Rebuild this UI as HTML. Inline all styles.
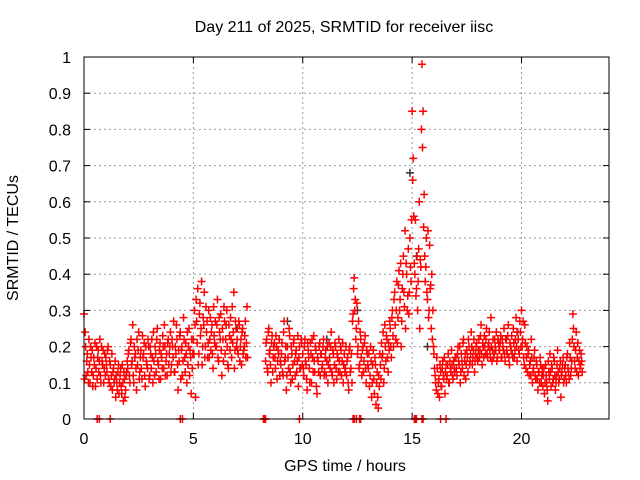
<!DOCTYPE html>
<html><head><meta charset="utf-8"><style>
body{margin:0;background:#fff}
svg{display:block;font-family:"Liberation Sans",sans-serif}
</style></head><body>
<svg id="chart" width="640" height="480" viewBox="0 0 640 480">
<rect width="640" height="480" fill="#fff"/>
<g id="grid"></g>
<g id="ticks"></g>
<g id="marks"></g>
<rect x="84" y="57" width="525" height="362" fill="none" stroke="#000" stroke-width="1"/>
<text x="344" y="32" font-size="16" text-anchor="middle">Day 211 of 2025, SRMTID for receiver iisc</text>
<text x="345" y="471" font-size="16" text-anchor="middle">GPS time / hours</text>
<text x="18" y="238" font-size="16" text-anchor="middle" transform="rotate(-90 18 238)">SRMTID / TECUs</text>
</svg>
<script>
const xTicks=[0,5,10,15,20];
const yTicks=[0,0.1,0.2,0.3,0.4,0.5,0.6,0.7,0.8,0.9,1];
const yTickLabels=["0","0.1","0.2","0.3","0.4","0.5","0.6","0.7","0.8","0.9","1"];
const sampleStep=0.05;
const segStarts=[0,1,2,3,4,5,6,7,8.3,9,10,11,12,13,14,15,16,17,18,19,20,21,22];
const seg0=[0.29,0.24,0.12,0.18,0.1,0.15,0.2,0.13,0.09,0.17,0.21,0.14,0.11,0.19,0.16,0.12,0.2,0.15,0.1,0.18];
const seg1=[0.17,0.13,0.2,0.1,0.15,0.12,0.08,0.14,0.11,0.06,0.1,0.13,0.07,0.12,0.09,0.15,0.05,0.11,0.08,0.13];
const seg2=[0.14,0.19,0.1,0.22,0.16,0.12,0.2,0.18,0.08,0.15,0.24,0.13,0.19,0.11,0.17,0.21,0.09,0.16,0.14,0.2];
const seg3=[0.12,0.18,0.22,0.1,0.16,0.2,0.13,0.25,0.15,0.19,0.11,0.17,0.23,0.14,0.2,0.16,0.12,0.22,0.18,0.24];
const seg4=[0.15,0.2,0.27,0.13,0.18,0.22,0.08,0.16,0.24,0.19,0.12,0.28,0.17,0.21,0.1,0.15,0.25,0.19,0.07,0.14];
const seg5=[0.22,0.3,0.06,0.27,0.36,0.18,0.32,0.25,0.15,0.28,0.35,0.2,0.24,0.17,0.3,0.22,0.19,0.26,0.14,0.23];
const seg6=[0.27,0.2,0.33,0.16,0.24,0.29,0.12,0.22,0.31,0.18,0.26,0.2,0.14,0.23,0.28,0.17,0.21,0.35,0.19,0.25];
const seg7=[0.22,0.18,0.26,0.2,0.15,0.25,0.19,0.23,0.17,0.31];
const seg8=[0.16,0.22,0.13,0.25,0.19,0.1,0.23,0.17,0.21,0.14,0.2,0.16,0.18,0.12];
const seg9=[0.15,0.21,0.12,0.27,0.17,0.08,0.2,0.14,0.23,0.1,0.18,0.15,0.22,0.12,0.19,0.16,0.09,0.2,0.14,0.21];
const seg10=[0.18,0.12,0.22,0.15,0.08,0.19,0.14,0.21,0.1,0.17,0.23,0.13,0.19,0.07,0.16,0.2,0.12,0.18,0.15,0.22];
const seg11=[0.13,0.19,0.16,0.1,0.21,0.14,0.24,0.12,0.18,0.15,0.2,0.11,0.17,0.22,0.13,0.19,0.16,0.1,0.18,0.14];
const seg12=[0.12,0.17,0.08,0.2,0.14,0.1,0.29,0.39,0.33,0.25,0.18,0.27,0.15,0.22,0.12,0.2,0.16,0.23,0.1,0.18];
const seg13=[0.14,0.09,0.2,0.06,0.15,0.11,0.17,0.04,0.13,0.03,0.09,0.15,0.21,0.18,0.1,0.26,0.16,0.22,0.13,0.19];
const seg14=[0.25,0.17,0.3,0.2,0.35,0.22,0.38,0.28,0.41,0.33,0.2,0.36,0.45,0.31,0.25,0.4,0.34,0.29,0.5,0.38];
const seg15=[0.85,0.72,0.43,0.55,0.36,0.3,0.47,0.25,0.42,0.98,0.85,0.62,0.38,0.5,0.33,0.28,0.48,0.37,0.4,0.3];
const seg16=[0.18,0.12,0.08,0.14,0.1,0.06,0.13,0.09,0.16,0.11,0.07,0.15,0.12,0.18,0.1,0.14,0.19,0.12,0.16,0.13];
const seg17=[0.17,0.12,0.2,0.15,0.1,0.18,0.14,0.22,0.16,0.11,0.19,0.13,0.2,0.16,0.24,0.15,0.19,0.13,0.18,0.21];
const seg18=[0.16,0.22,0.19,0.26,0.15,0.2,0.23,0.18,0.25,0.17,0.21,0.19,0.28,0.16,0.22,0.18,0.2,0.24,0.17,0.21];
const seg19=[0.19,0.23,0.17,0.2,0.25,0.16,0.22,0.18,0.26,0.15,0.2,0.23,0.17,0.21,0.19,0.28,0.16,0.22,0.18,0.24];
const seg20=[0.3,0.22,0.17,0.26,0.14,0.2,0.18,0.12,0.16,0.22,0.1,0.14,0.19,0.11,0.15,0.08,0.13,0.17,0.1,0.14];
const seg21=[0.12,0.07,0.15,0.1,0.05,0.13,0.18,0.09,0.14,0.11,0.16,0.08,0.12,0.19,0.1,0.14,0.06,0.13,0.17,0.11];
const seg22=[0.15,0.1,0.18,0.13,0.21,0.12,0.16,0.29,0.2,0.14,0.24,0.17,0.12,0.19,0.15,0.16];
const segStartsB=[0.025,1.025,2.025,3.025,4.025,5.025,6.025,7.025,8.325,9.025,10.025,11.025,12.025,13.025,14.025,15.025,16.025,17.025,18.025,19.025,20.025,21.025,22.025];
const segB0=[0.11,0.2,0.16,0.13,0.22,0.1,0.17,0.19,0.12,0.15,0.09,0.2,0.17,0.13,0.22,0.1,0.16,0.19,0.14,0.12];
const segB1=[0.15,0.19,0.11,0.16,0.09,0.18,0.13,0.1,0.16,0.12,0.08,0.15,0.1,0.14,0.07,0.1,0.13,0.06,0.12,0.16];
const segB2=[0.18,0.12,0.21,0.15,0.26,0.1,0.17,0.14,0.22,0.19,0.11,0.17,0.14,0.23,0.18,0.12,0.2,0.15,0.22,0.11];
const segB3=[0.2,0.14,0.17,0.24,0.12,0.18,0.22,0.16,0.11,0.21,0.18,0.14,0.2,0.26,0.12,0.18,0.21,0.15,0.2,0.13];
const segB4=[0.22,0.17,0.13,0.2,0.26,0.15,0.19,0.23,0.11,0.2,0.16,0.22,0.13,0.18,0.24,0.2,0.12,0.17,0.22,0.18];
const segB5=[0.18,0.26,0.33,0.21,0.15,0.29,0.23,0.38,0.2,0.26,0.17,0.31,0.27,0.21,0.17,0.28,0.24,0.18,0.31,0.21];
const segB6=[0.2,0.26,0.17,0.28,0.22,0.19,0.25,0.16,0.27,0.22,0.3,0.15,0.26,0.19,0.22,0.31,0.24,0.14,0.27,0.2];
const segB7=[0.19,0.27,0.16,0.22,0.24,0.18,0.2,0.27,0.21,0.17];
const segB8=[0.21,0.14,0.24,0.18,0.15,0.21,0.13,0.2,0.17,0.23,0.11,0.19,0.22,0.16];
const segB9=[0.18,0.13,0.24,0.16,0.2,0.12,0.17,0.25,0.13,0.2,0.11,0.21,0.16,0.18,0.13,0.23,0.17,0.14,0.22,0.15];
const segB10=[0.14,0.2,0.16,0.11,0.21,0.17,0.1,0.18,0.22,0.13,0.16,0.2,0.09,0.17,0.13,0.21,0.18,0.14,0.2,0.12];
const segB11=[0.17,0.12,0.2,0.15,0.17,0.2,0.13,0.19,0.1,0.21,0.14,0.18,0.13,0.16,0.2,0.12,0.21,0.15,0.13,0.2];
const segB12=[0.16,0.1,0.19,0.13,0.18,0.27,0.36,0.3,0.22,0.32,0.2,0.14,0.24,0.17,0.19,0.13,0.21,0.14,0.19,0.15];
const segB13=[0.18,0.12,0.16,0.1,0.19,0.07,0.15,0.1,0.06,0.12,0.18,0.11,0.17,0.24,0.14,0.2,0.23,0.17,0.21,0.27];
const segB14=[0.2,0.28,0.23,0.33,0.26,0.3,0.21,0.37,0.3,0.43,0.27,0.4,0.35,0.52,0.43,0.3,0.47,0.35,0.42,0.55];
const segB15=[0.66,0.56,0.4,0.34,0.45,0.38,0.6,0.44,0.8,0.75,0.53,0.45,0.42,0.35,0.52,0.3,0.36,0.25,0.22,0.2];
const segB16=[0.14,0.1,0.17,0.07,0.11,0.15,0.09,0.14,0.12,0.17,0.13,0.11,0.15,0.1,0.16,0.13,0.15,0.11,0.14,0.17];
const segB17=[0.14,0.18,0.16,0.2,0.13,0.16,0.21,0.12,0.18,0.15,0.17,0.22,0.15,0.18,0.2,0.17,0.22,0.16,0.2,0.17];
const segB18=[0.19,0.17,0.23,0.18,0.21,0.17,0.2,0.22,0.18,0.2,0.24,0.17,0.2,0.19,0.17,0.22,0.19,0.16,0.22,0.19];
const segB19=[0.21,0.17,0.22,0.19,0.18,0.22,0.19,0.23,0.17,0.21,0.19,0.18,0.25,0.17,0.22,0.2,0.24,0.19,0.27,0.2];
const segB20=[0.2,0.27,0.15,0.21,0.17,0.13,0.19,0.15,0.12,0.17,0.13,0.17,0.12,0.16,0.11,0.13,0.1,0.15,0.12,0.09];
const segB21=[0.14,0.1,0.12,0.08,0.16,0.11,0.13,0.15,0.1,0.17,0.12,0.1,0.15,0.13,0.11,0.16,0.12,0.15,0.1,0.14];
const segB22=[0.12,0.17,0.14,0.11,0.17,0.14,0.22,0.25,0.16,0.19,0.13,0.21,0.16,0.14,0.18,0.13];
const zeroHours=[0.6,0.7,1.2,4.4,4.5,8.2,8.25,8.3,9.85,12.3,12.35,12.45,12.6,12.65,15.1,15.15,15.2,15.45,15.5,16.3,16.55];
const grayHours=[14.9,15.2,12.5,7.0,9.3,15.7,11.1,19.8];
const grayValues=[0.68,0.45,0.3,0.25,0.27,0.2,0.22,0.24];
const segs=[seg0,seg1,seg2,seg3,seg4,seg5,seg6,seg7,seg8,seg9,seg10,seg11,seg12,seg13,seg14,seg15,seg16,seg17,seg18,seg19,seg20,seg21,seg22];
const segsB=[segB0,segB1,segB2,segB3,segB4,segB5,segB6,segB7,segB8,segB9,segB10,segB11,segB12,segB13,segB14,segB15,segB16,segB17,segB18,segB19,segB20,segB21,segB22];

const X0=84,X1=609,Y0=419,Y1=57;
function xs(h){return X0+(h/24)*(X1-X0);}
function ys(v){return Y0-v*(Y0-Y1);}
const NS="http://www.w3.org/2000/svg";
const grid=document.getElementById('grid'),ticks=document.getElementById('ticks'),marks=document.getElementById('marks');
function mk(tag,attrs,parent){const e=document.createElementNS(NS,tag);for(const k in attrs)e.setAttribute(k,attrs[k]);parent.appendChild(e);return e;}

xTicks.forEach(t=>{
  const x=xs(t);
  if(t>0){const g=mk('line',{x1:x,x2:x,y1:Y1,y2:Y0,stroke:'#999','stroke-dasharray':'2,3'},grid);
  
  }
  const a=mk('line',{x1:x,x2:x,y1:Y0,y2:Y0-6,stroke:'#000'},ticks);
  
  
  const b=mk('line',{x1:x,x2:x,y1:Y1,y2:Y1+6,stroke:'#000'},ticks);
  
  
  const l=mk('text',{x:x,y:444,'font-size':16,'text-anchor':'middle'},ticks);
  l.textContent=String(t);
  
  
});
yTicks.forEach((t,i)=>{
  const y=ys(t);
  if(t>0&&t<1){const g=mk('line',{x1:X0,x2:X1,y1:y,y2:y,stroke:'#999','stroke-dasharray':'2,3'},grid);
  
  }
  const a=mk('line',{x1:X0,x2:X0+6,y1:y,y2:y,stroke:'#000'},ticks);
  
  
  const b=mk('line',{x1:X1,x2:X1-6,y1:y,y2:y,stroke:'#000'},ticks);
  
  
  const l=mk('text',{x:71,y:y+6,'font-size':16,'text-anchor':'end'},ticks);
  l.textContent=yTickLabels[i];
  
  
});
function plus(h,v,color,name){
  const x=xs(h),y=ys(v);
  const p=mk('path',{d:`M${x-4} ${y}h8M${x} ${y-4}v8`,stroke:color,'stroke-width':1.5,fill:'none'},marks);
  
  
}
grayHours.forEach((h,i)=>plus(h,grayValues[i],'#333','gray-point'));
segs.forEach((s,si)=>{s.forEach((v,i)=>plus(segStarts[si]+i*sampleStep,v,'#f00','srmtid-point'));});
segsB.forEach((s,si)=>{s.forEach((v,i)=>plus(segStartsB[si]+i*sampleStep,v,'#f00','srmtid-point'));});
zeroHours.forEach(h=>plus(h,0,'#f00','zero-point'));
</script>
</body></html>
